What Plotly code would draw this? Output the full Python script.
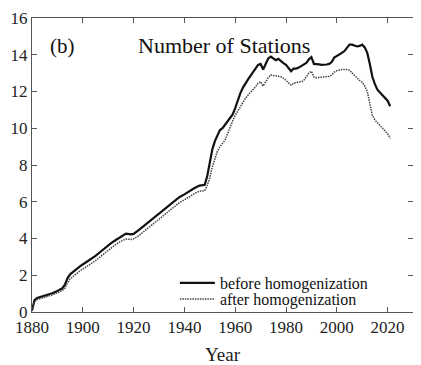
import plotly.graph_objects as go

years_before = [1880, 1881, 1882, 1884, 1886, 1888, 1890, 1892, 1893, 1894, 1895, 1897, 1899, 1901, 1903, 1905, 1907, 1909, 1911, 1913, 1915, 1917, 1919, 1920, 1922, 1924, 1926, 1928, 1930, 1932, 1934, 1936, 1938, 1940, 1942, 1944, 1946, 1948,
                1949, 1950, 1951, 1952, 1953, 1954, 1955, 1956, 1957, 1958, 1959, 1960, 1961, 1962, 1963, 1964, 1965, 1966, 1967, 1968, 1969, 1970,
                1971, 1972, 1973, 1974, 1975, 1976, 1977, 1978, 1979, 1980, 1981, 1982, 1983, 1984, 1985, 1986, 1987, 1988, 1989, 1990,
                1991, 1992, 1993, 1994, 1995, 1996, 1997, 1998, 1999, 2000, 2001, 2002, 2003, 2004, 2005, 2006, 2007, 2008, 2009, 2010,
                2011, 2012, 2013, 2014, 2015, 2016, 2017, 2018, 2019, 2020, 2021]
before = [0.1, 0.65, 0.76, 0.84, 0.92, 1.02, 1.14, 1.3, 1.5, 1.85, 2.05, 2.3, 2.5, 2.68, 2.85, 3.05, 3.28, 3.52, 3.74, 3.92, 4.1, 4.27, 4.23, 4.25, 4.46, 4.68, 4.92, 5.12, 5.35, 5.6, 5.8, 6.05, 6.25, 6.4, 6.6, 6.75, 6.88, 6.92,
          7.4, 8.2, 8.85, 9.3, 9.6, 9.9, 10.0, 10.2, 10.35, 10.55, 10.75, 11.1, 11.55, 11.9, 12.2, 12.45, 12.65, 12.85, 13.05, 13.2, 13.45, 13.5,
          13.2, 13.5, 13.8, 13.9, 13.8, 13.7, 13.78, 13.65, 13.55, 13.45, 13.3, 13.1, 13.25, 13.25, 13.3, 13.38, 13.45, 13.55, 13.75, 13.87,
          13.5, 13.5, 13.48, 13.45, 13.45, 13.47, 13.5, 13.6, 13.85, 13.92, 14.0, 14.1, 14.2, 14.4, 14.55, 14.55, 14.5, 14.45, 14.48, 14.55,
          14.4, 14.1, 13.5, 12.8, 12.4, 12.1, 11.95, 11.8, 11.65, 11.5, 11.2]

years_after = years_before
after = [0.05, 0.55, 0.68, 0.76, 0.84, 0.93, 1.05, 1.18, 1.3, 1.6, 1.8, 2.05, 2.25, 2.42, 2.6, 2.8, 3.02, 3.25, 3.48, 3.68, 3.85, 3.97, 3.95, 3.98, 4.15, 4.38, 4.62, 4.82, 5.05, 5.3, 5.5, 5.75, 5.95, 6.1, 6.3, 6.45, 6.58, 6.6,
         6.9, 7.3, 7.9, 8.4, 8.75, 9.0, 9.2, 9.35, 9.7, 10.1, 10.4, 10.7, 10.95, 11.17, 11.4, 11.62, 11.8, 11.95, 12.05, 12.25, 12.45, 12.53,
         12.3, 12.55, 12.75, 12.9, 12.88, 12.85, 12.85, 12.8, 12.72, 12.6, 12.45, 12.35, 12.45, 12.5, 12.52, 12.53, 12.6, 12.8, 13.0, 13.1,
         12.78, 12.75, 12.75, 12.78, 12.8, 12.8, 12.82, 12.9, 13.05, 13.13, 13.17, 13.2, 13.2, 13.2, 13.15, 13.0, 12.85, 12.75, 12.6, 12.5,
         12.3, 12.0, 11.3, 10.7, 10.45, 10.3, 10.15, 10.05, 9.9, 9.7, 9.45]

x_ticks = [1880, 1900, 1920, 1940, 1960, 1980, 2000, 2020]
y_ticks = [0, 2, 4, 6, 8, 10, 12, 14, 16]

SERIF = "Liberation Serif, Times New Roman, serif"

fig = go.Figure()
fig.add_trace(go.Scatter(x=years_before, y=before, mode="lines", name="before homogenization",
                         line=dict(color="#111111", width=2.2), legend="legend"))
fig.add_trace(go.Scatter(x=years_after, y=after, mode="lines", name="after homogenization",
                         line=dict(color="#444444", width=1.5, dash="1.5px,1px"), legend="legend2"))

axis_common = dict(showline=True, linecolor="#555555", linewidth=1, mirror="ticks",
                   ticks="inside", ticklen=5, tickcolor="#555555", showgrid=False, zeroline=False,
                   automargin=False, tickfont=dict(family=SERIF, size=17, color="#222"))

fig.update_xaxes(range=[1880, 2030], tickvals=x_ticks, ticktext=[str(v) for v in x_ticks],
                 title=dict(text="Year", font=dict(family=SERIF, size=19, color="#222"), standoff=14),
                 **axis_common)
fig.update_yaxes(range=[0, 16], tickvals=y_ticks, ticktext=[str(v) for v in y_ticks], **axis_common)

fig.add_annotation(x=0.504, y=0.905, xref="paper", yref="paper", text="Number of Stations",
                   xanchor="center", yanchor="middle",
                   showarrow=False, font=dict(family=SERIF, size=22, color="#111"))
fig.add_annotation(x=0.081, y=0.905, xref="paper", yref="paper", text="(b)",
                   xanchor="center", yanchor="middle",
                   showarrow=False, font=dict(family=SERIF, size=21, color="#111"))

leg_common = dict(xanchor="left", yanchor="middle", font=dict(family=SERIF, size=16, color="#111"),
                  bgcolor="rgba(0,0,0,0)", itemwidth=35)
fig.update_layout(
    width=413, height=357,
    margin=dict(l=24, r=8, t=10, b=53),
    paper_bgcolor="white", plot_bgcolor="white",
    legend=dict(x=0.375, y=0.099, **leg_common),
    legend2=dict(x=0.375, y=0.044, **leg_common),
    showlegend=True,
)

fig.write_html("out.html")
